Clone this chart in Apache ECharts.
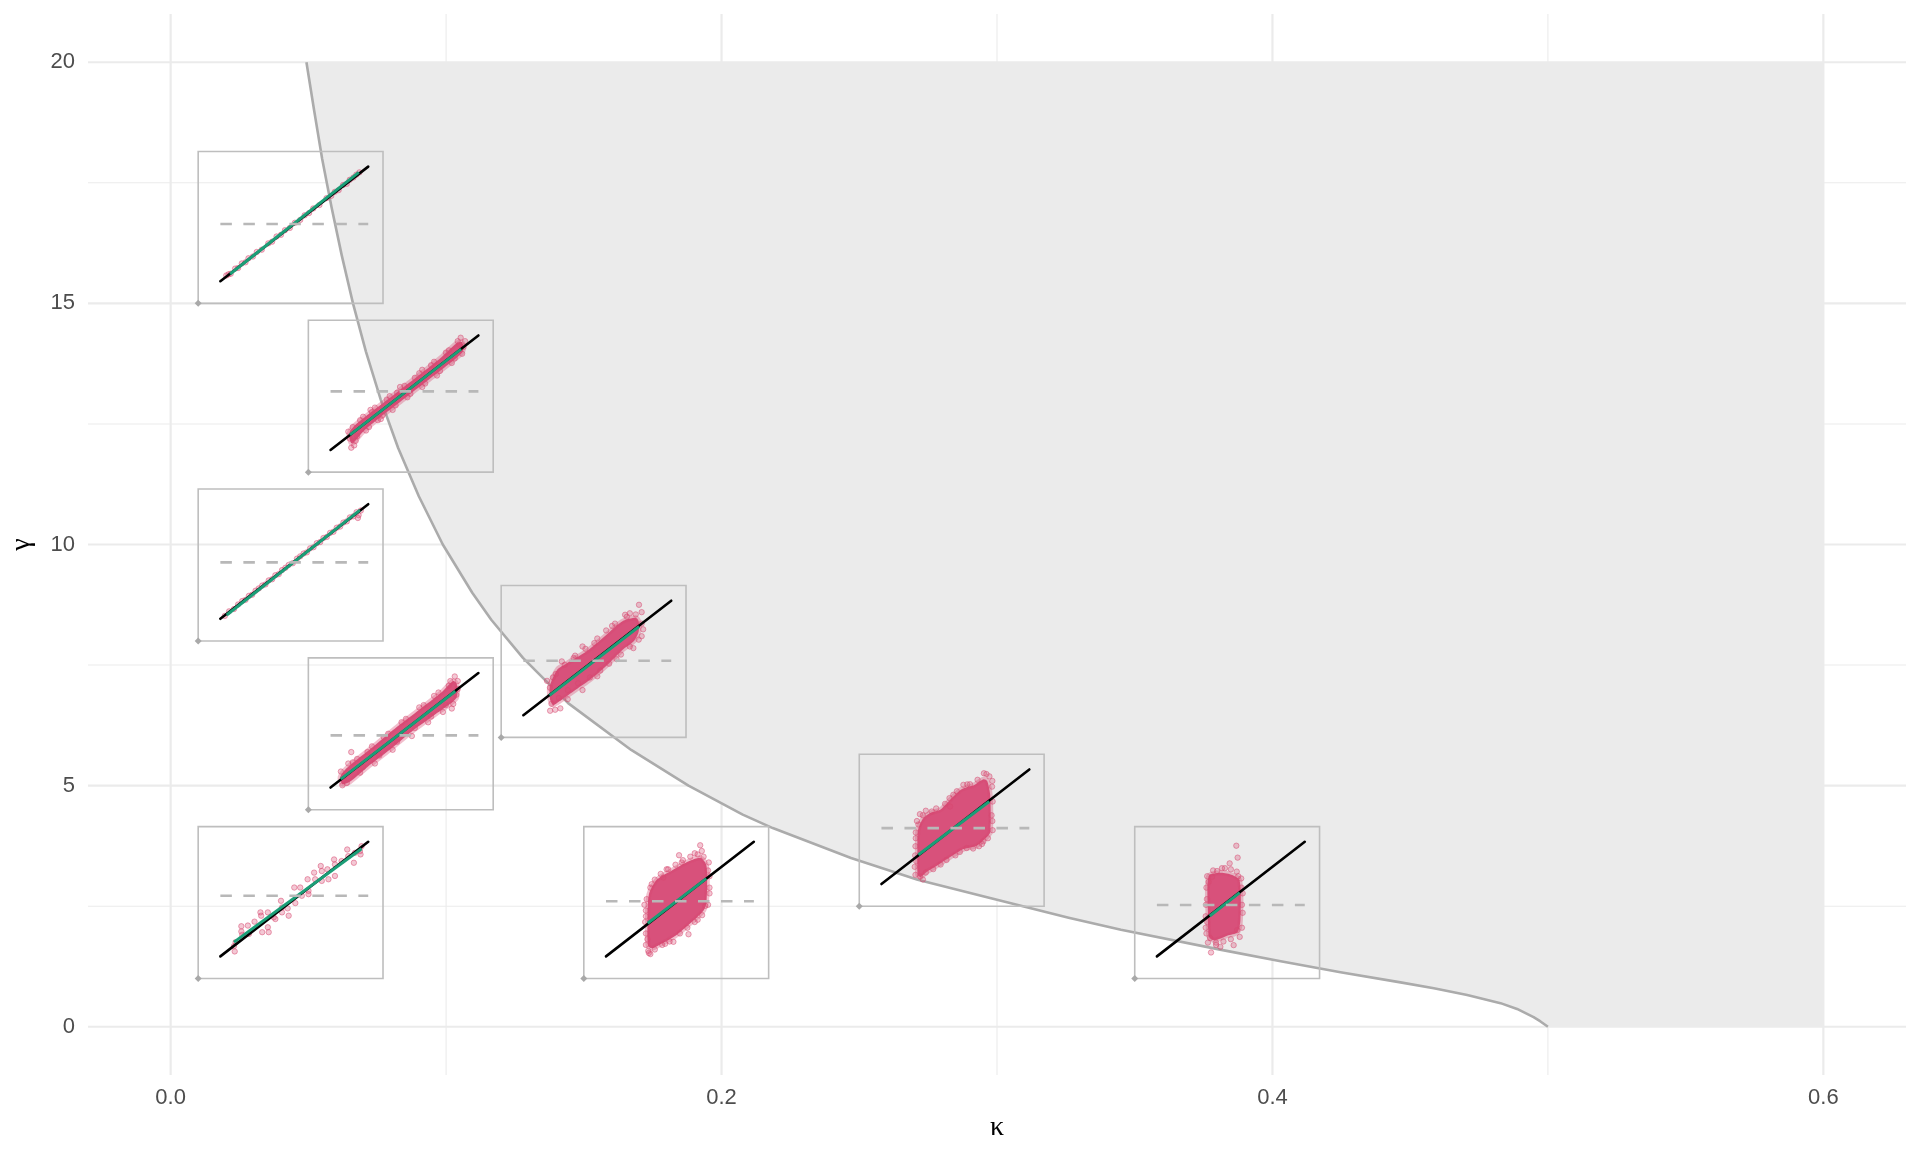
<!DOCTYPE html>
<html><head><meta charset="utf-8">
<script src="https://cdn.jsdelivr.net/npm/echarts@6/dist/echarts.min.js"></script>
<style>html,body{margin:0;padding:0;background:#fff}#c{width:1920px;height:1152px}</style>
</head><body><div id="c"></div>
<script>
// ---------- data ----------
const xMajor = [0, 0.2, 0.4, 0.6];
const xMinor = [0.1, 0.3, 0.5];
const yMajor = [0, 5, 10, 15, 20];
const yMinor = [2.5, 7.5, 12.5, 17.5];

const boundaryKappa = [0.0493,0.0521,0.055,0.0584,0.0621,0.0662,0.0709,0.0763,0.0826,0.0901,0.0988,0.1095,0.1164,0.1279,0.1443,0.1672,0.1880,0.2077,0.2186,0.247,0.2712,0.2953,0.326,0.345,0.381,0.4030,0.4247,0.4465,0.4586,0.4707,0.4828,0.4888,0.4948,0.4973,0.5];
const boundaryGamma = [20,19,18,17,16,15,14,13,12,11,10,9,8.44,7.65,6.71,5.74,5.0,4.40,4.12,3.50,3.05,2.70,2.26,2.01,1.60,1.36,1.13,0.92,0.80,0.66,0.49,0.37,0.20,0.11,0];

// inset anchors (bottom-left corner, in kappa / gamma units)
const insetKappa = [0.01, 0.05, 0.01, 0.05, 0.01, 0.12, 0.15, 0.25, 0.35];
const insetGamma = [15, 11.5, 8, 4.5, 1, 6, 1, 2.5, 1];

// inside each inset: identity line runs from (0,0) to (1,1)
const dashedLevel = [0.499, 0.512, 0.492, 0.456, 0.529, 0.476, 0.481, 0.488, 0.448];
const fitLine = [
  [0.066,0.063,0.936,0.95],
  [0.131,0.132,0.883,0.88],
  [0.043,0.033,0.944,0.949],
  [0.069,0.074,0.844,0.841],
  [0.092,0.124,0.955,0.939],
  [0.177,0.173,0.783,0.775],
  [0.282,0.289,0.678,0.679],
  [0.25,0.256,0.729,0.72],
  [0.357,0.352,0.56,0.556]
];
const denseCore = [
  null,
  [[0.14,0.06],[0.125,0.14],[0.16,0.21],[0.3,0.355],[0.45,0.505],[0.6,0.655],[0.75,0.81],[0.85,0.93],[0.89,0.94],[0.895,0.86],[0.8,0.75],[0.65,0.6],[0.5,0.45],[0.35,0.3],[0.22,0.16],[0.16,0.07]],
  null,
  [[0.08,0.03],[0.065,0.09],[0.11,0.17],[0.3,0.37],[0.45,0.53],[0.6,0.68],[0.75,0.83],[0.83,0.93],[0.855,0.9],[0.85,0.78],[0.72,0.65],[0.55,0.49],[0.4,0.33],[0.25,0.18],[0.13,0.05]],
  null,
  [[0.18,0.14],[0.18,0.26],[0.23,0.4],[0.29,0.45],[0.43,0.56],[0.56,0.7],[0.67,0.82],[0.76,0.85],[0.78,0.82],[0.78,0.73],[0.75,0.65],[0.67,0.57],[0.56,0.43],[0.45,0.31],[0.34,0.21],[0.23,0.11],[0.2,0.09]],
  [[0.285,0.09],[0.28,0.27],[0.29,0.54],[0.345,0.67],[0.445,0.75],[0.56,0.83],[0.64,0.86],[0.68,0.79],[0.68,0.48],[0.66,0.4],[0.58,0.3],[0.47,0.18],[0.36,0.1],[0.31,0.07]],
  [[0.245,0.08],[0.243,0.285],[0.247,0.47],[0.28,0.57],[0.33,0.62],[0.4,0.65],[0.475,0.75],[0.545,0.83],[0.62,0.86],[0.69,0.915],[0.715,0.9],[0.735,0.78],[0.735,0.45],[0.7,0.395],[0.645,0.335],[0.555,0.305],[0.465,0.235],[0.375,0.16],[0.305,0.105],[0.265,0.06]],
  [[0.35,0.7],[0.43,0.73],[0.51,0.71],[0.56,0.66],[0.565,0.32],[0.545,0.21],[0.475,0.18],[0.39,0.14],[0.353,0.17],[0.345,0.39]]
];
const insetPoints = [
  [[0.04,0.05],[0.055,0.06],[0.07,0.065],[0.10,0.11],[0.12,0.115],[0.145,0.155],[0.17,0.165],[0.19,0.2],[0.22,0.215],[0.246,0.255],[0.28,0.275],[0.324,0.33],[0.35,0.345],[0.38,0.39],[0.41,0.405],[0.437,0.445],[0.47,0.465],[0.504,0.51],[0.54,0.535],[0.57,0.575],[0.6,0.595],[0.628,0.635],[0.67,0.665],[0.718,0.725],[0.75,0.745],[0.774,0.78],[0.8,0.795],[0.83,0.84],[0.855,0.85],[0.875,0.885],[0.9,0.905],[0.92,0.93],[0.94,0.95]],
  [[0.14,0.02],[0.12,0.16],[0.13,0.1],[0.17,0.08],[0.2,0.26],[0.24,0.17],[0.28,0.33],[0.32,0.26],[0.38,0.44],[0.42,0.35],[0.47,0.55],[0.52,0.46],[0.57,0.63],[0.62,0.55],[0.68,0.74],[0.72,0.65],[0.78,0.85],[0.82,0.76],[0.86,0.95],[0.88,0.98],[0.9,0.9],[0.89,0.84],[0.45,0.5],[0.62,0.7],[0.35,0.3],
   [0.15,0.2],[0.18,0.12],[0.22,0.29],[0.26,0.2],[0.3,0.37],[0.34,0.27],[0.4,0.47],[0.44,0.39],[0.5,0.56],[0.54,0.49],[0.6,0.67],[0.64,0.58],[0.7,0.77],[0.74,0.69],[0.8,0.87],[0.84,0.8],[0.87,0.92],[0.91,0.95],[0.16,0.04],[0.27,0.35]],
  [[0.03,0.025],[0.059,0.065],[0.092,0.085],[0.12,0.125],[0.148,0.155],[0.17,0.165],[0.193,0.2],[0.215,0.21],[0.238,0.245],[0.26,0.265],[0.283,0.29],[0.305,0.3],[0.327,0.335],[0.35,0.345],[0.372,0.38],[0.395,0.39],[0.417,0.425],[0.44,0.445],[0.462,0.47],[0.49,0.485],[0.518,0.525],[0.54,0.545],[0.563,0.57],[0.585,0.58],[0.607,0.615],[0.63,0.625],[0.652,0.66],[0.675,0.67],[0.697,0.705],[0.72,0.715],[0.742,0.75],[0.765,0.76],[0.787,0.795],[0.81,0.805],[0.832,0.84],[0.855,0.85],[0.876,0.885],[0.9,0.895],[0.921,0.93],[0.93,0.88],[0.935,0.905],[0.95,0.945]],
  [[0.08,0.02],[0.07,0.14],[0.14,0.31],[0.15,0.22],[0.2,0.13],[0.25,0.31],[0.3,0.21],[0.36,0.44],[0.42,0.33],[0.48,0.57],[0.55,0.45],[0.6,0.7],[0.66,0.57],[0.7,0.8],[0.76,0.66],[0.8,0.89],[0.83,0.73],[0.84,0.97],[0.86,0.93],[0.85,0.81],[0.82,0.69],
   [0.09,0.1],[0.11,0.04],[0.18,0.25],[0.22,0.18],[0.28,0.36],[0.33,0.28],[0.39,0.47],[0.45,0.4],[0.51,0.6],[0.57,0.52],[0.63,0.72],[0.68,0.62],[0.73,0.83],[0.78,0.72],[0.81,0.93],[0.86,0.86],[0.12,0.21]],
  [[0.092,0.089],[0.097,0.043],[0.103,0.124],[0.142,0.263],[0.142,0.217],[0.148,0.188],[0.186,0.269],[0.193,0.196],[0.231,0.303],[0.271,0.384],[0.276,0.355],[0.283,0.211],[0.321,0.384],[0.321,0.254],[0.327,0.211],[0.361,0.341],[0.372,0.326],[0.41,0.485],[0.417,0.427],[0.417,0.384],[0.455,0.419],[0.462,0.355],[0.5,0.601],[0.507,0.465],[0.54,0.601],[0.551,0.529],[0.59,0.673],[0.596,0.572],[0.596,0.543],[0.634,0.731],[0.641,0.673],[0.679,0.789],[0.686,0.745],[0.686,0.659],[0.724,0.76],[0.731,0.673],[0.769,0.846],[0.775,0.803],[0.775,0.702],[0.82,0.832],[0.858,0.933],[0.865,0.875],[0.903,0.817],[0.91,0.904],[0.944,0.919],[0.948,0.89],[0.955,0.962]],
  [[0.782,0.964],[0.181,0.039],[0.215,0.048],[0.688,0.877],[0.744,0.586],[0.16,0.3],[0.2,0.33],[0.26,0.47],[0.35,0.52],[0.4,0.6],[0.5,0.67],[0.6,0.78],[0.72,0.89],[0.8,0.9],[0.8,0.69],[0.63,0.49],[0.5,0.34],[0.4,0.22],[0.3,0.14],[0.25,0.06],
   [0.18,0.24],[0.19,0.1],[0.22,0.36],[0.24,0.15],[0.28,0.44],[0.3,0.22],[0.34,0.5],[0.37,0.28],[0.42,0.58],[0.45,0.33],[0.48,0.63],[0.52,0.39],[0.56,0.74],[0.58,0.45],[0.62,0.8],[0.66,0.53],[0.7,0.86],[0.72,0.6],[0.76,0.88],[0.78,0.66],[0.8,0.8],[0.81,0.75]],
  [[0.637,0.97],[0.494,0.883],[0.309,0.63],[0.558,0.193],[0.456,0.127],[0.286,0.048],[0.671,0.441],[0.648,0.92],[0.388,0.688],[0.512,0.819],[0.27,0.35],[0.28,0.15],[0.7,0.6],[0.69,0.75],[0.6,0.9],[0.42,0.76],[0.6,0.3],[0.38,0.1],[0.3,0.02],[0.26,0.45],
   [0.27,0.1],[0.27,0.2],[0.265,0.3],[0.27,0.4],[0.275,0.5],[0.3,0.6],[0.33,0.67],[0.37,0.72],[0.41,0.76],[0.47,0.8],[0.52,0.84],[0.57,0.87],[0.62,0.89],[0.66,0.87],[0.695,0.82],[0.7,0.7],[0.7,0.55],[0.69,0.45],[0.65,0.36],[0.62,0.32],[0.55,0.25],[0.5,0.2],[0.43,0.13],[0.4,0.11],[0.33,0.06],[0.29,0.03]],
  [[0.693,0.967],[0.554,0.866],[0.486,0.779],[0.34,0.633],[0.689,0.372],[0.576,0.314],[0.262,0.067],[0.464,0.677],[0.599,0.871],[0.235,0.2],[0.232,0.4],[0.25,0.52],[0.745,0.6],[0.748,0.85],[0.71,0.96],[0.4,0.17],[0.3,0.1],[0.28,0.6],[0.66,0.33],[0.5,0.25],
   [0.23,0.08],[0.225,0.15],[0.228,0.25],[0.23,0.33],[0.232,0.45],[0.24,0.55],[0.26,0.61],[0.3,0.64],[0.37,0.66],[0.43,0.7],[0.46,0.75],[0.51,0.81],[0.58,0.87],[0.65,0.91],[0.73,0.94],[0.75,0.9],[0.752,0.72],[0.75,0.55],[0.752,0.47],[0.72,0.4],[0.68,0.35],[0.62,0.31],[0.53,0.28],[0.44,0.21],[0.35,0.13],[0.28,0.04]],
  [[0.537,0.966],[0.546,0.862],[0.492,0.812],[0.407,0.745],[0.373,0.695],[0.429,0.083],[0.366,0.034],[0.542,0.229],[0.519,0.098],[0.34,0.3],[0.338,0.5],[0.575,0.45],[0.572,0.6],[0.36,0.16],[0.4,0.12],[0.46,0.77],[0.55,0.7],[0.35,0.65],
   [0.335,0.2],[0.33,0.35],[0.332,0.45],[0.335,0.6],[0.34,0.7],[0.38,0.75],[0.44,0.77],[0.5,0.76],[0.54,0.74],[0.57,0.68],[0.58,0.55],[0.58,0.38],[0.575,0.25],[0.56,0.17],[0.5,0.15],[0.45,0.13],[0.4,0.1],[0.345,0.12],[0.33,0.25]]
];

// ---------- layout / style constants ----------
const X_MIN = -0.03, X_MAX = 0.63, Y_MIN = -1, Y_MAX = 21;
const BOX_W = 0.0671, BOX_H = 3.15;          // inset box size in axis units
const IU0 = 0.12, IUS = 0.80, IV0 = 0.146, IVS = 0.754; // inner placement of inset content
const GRID_COLOR = '#EBEBEB';
const PINK = 'rgba(215,72,112,';

const gridSpec = [];
xMajor.forEach(v => gridSpec.push({d:'x', v, w:2.2}));
xMinor.forEach(v => gridSpec.push({d:'x', v, w:1.1}));
yMajor.forEach(v => gridSpec.push({d:'y', v, w:2.2}));
yMinor.forEach(v => gridSpec.push({d:'y', v, w:1.1}));

const chart = echarts.init(document.getElementById('c'), null, {renderer:'canvas'});

function gridItem(params, api) {
  const g = gridSpec[params.dataIndex];
  const a = g.d === 'x' ? api.coord([g.v, Y_MIN]) : api.coord([X_MIN, g.v]);
  const b = g.d === 'x' ? api.coord([g.v, Y_MAX]) : api.coord([X_MAX, g.v]);
  return {type:'line', shape:{x1:a[0], y1:a[1], x2:b[0], y2:b[1]}, style:{stroke:GRID_COLOR, lineWidth:g.w}};
}

function shadeItem(params, api) {
  const pts = boundaryKappa.map((k, i) => api.coord([k, boundaryGamma[i]]));
  pts.push(api.coord([0.6, 0]));
  pts.push(api.coord([0.6, 20]));
  return {type:'polygon', shape:{points:pts}, style:{fill:'#EBEBEB'}};
}

function curveItem(params, api) {
  const pts = boundaryKappa.map((k, i) => api.coord([k, boundaryGamma[i]]));
  return {type:'polyline', shape:{points:pts}, style:{stroke:'#ABABAB', lineWidth:2.6, fill:'none', lineJoin:'round'}};
}

function insetItem(params, api) {
  const i = params.dataIndex;
  const k0 = insetKappa[i], g0 = insetGamma[i];
  const P = (x, y) => api.coord([k0 + (IU0 + IUS * x) * BOX_W, g0 + (IV0 + IVS * y) * BOX_H]);
  const bl = api.coord([k0, g0]);
  const tr = api.coord([k0 + BOX_W, g0 + BOX_H]);
  const ch = [];
  ch.push({type:'rect', shape:{x:bl[0], y:tr[1], width:tr[0]-bl[0], height:bl[1]-tr[1]},
           style:{fill:'none', stroke:'#BEBEBE', lineWidth:1.6}});
  ch.push({type:'polygon', shape:{points:[[bl[0]-3.5,bl[1]],[bl[0],bl[1]-3.5],[bl[0]+3.5,bl[1]],[bl[0],bl[1]+3.5]]},
           style:{fill:'#A9A9A9'}});
  if (denseCore[i]) {
    ch.push({type:'polygon', shape:{points:denseCore[i].map(p => P(p[0], p[1])), smooth:0.25},
             style:{fill:'#D8517B', stroke:PINK+'0.35)', lineWidth:5, lineJoin:'round'}});
  }
  insetPoints[i].forEach(p => {
    const c = P(p[0], p[1]);
    ch.push({type:'circle', shape:{cx:c[0], cy:c[1], r:2.7},
             style:{fill:PINK+'0.3)', stroke:PINK+'0.5)', lineWidth:1}});
  });
  const a0 = P(0, 0), a1 = P(1, 1);
  ch.push({type:'line', shape:{x1:a0[0], y1:a0[1], x2:a1[0], y2:a1[1]}, style:{stroke:'#000', lineWidth:2.6, lineCap:'round'}});
  const f = fitLine[i];
  const t0 = P(f[0], f[1]), t1 = P(f[2], f[3]);
  ch.push({type:'line', shape:{x1:t0[0], y1:t0[1], x2:t1[0], y2:t1[1]}, style:{stroke:'#1B9E77', lineWidth:3}});
  const d0 = P(0, dashedLevel[i]), d1 = P(1, dashedLevel[i]);
  ch.push({type:'line', shape:{x1:d0[0], y1:d0[1], x2:d1[0], y2:d1[1]}, style:{stroke:'#B8B8B8', lineWidth:2.6, lineDash:[11.5,11.5]}});
  return {type:'group', children:ch};
}

const option = {
  animation: false,
  backgroundColor: '#ffffff',
  grid: {left:86, right:14, top:14, bottom:77},
  xAxis: {
    type:'value', min:X_MIN, max:X_MAX,
    axisLine:{show:false}, axisTick:{show:false}, splitLine:{show:false},
    axisLabel:{customValues:xMajor, formatter:v => Number(v).toFixed(1), fontSize:22, color:'#4D4D4D', fontFamily:'Liberation Sans, Arial, sans-serif', margin:12},
    name:'κ', nameLocation:'middle', nameGap:34,
    nameTextStyle:{fontFamily:'Liberation Serif, DejaVu Serif, serif', fontSize:28, color:'#000'}
  },
  yAxis: {
    type:'value', min:Y_MIN, max:Y_MAX,
    axisLine:{show:false}, axisTick:{show:false}, splitLine:{show:false},
    axisLabel:{customValues:yMajor, formatter:v => String(v), fontSize:22, color:'#4D4D4D', fontFamily:'Liberation Sans, Arial, sans-serif', margin:13},
    name:'γ', nameLocation:'middle', nameGap:52, nameRotate:90,
    nameTextStyle:{fontFamily:'Liberation Serif, DejaVu Serif, serif', fontSize:28, color:'#000'}
  },
  series: [
    {type:'custom', z:1, silent:true, clip:false, renderItem:gridItem, data:gridSpec.map((g, i) => [i])},
    {type:'custom', z:2, silent:true, clip:false, renderItem:shadeItem, data:[[0]]},
    {type:'custom', z:3, silent:true, clip:false, renderItem:curveItem, data:[[0]]},
    {type:'custom', z:4, silent:true, clip:false, renderItem:insetItem, data:insetKappa.map((k, i) => [i])}
  ]
};
chart.setOption(option);
</script>
</body></html>
